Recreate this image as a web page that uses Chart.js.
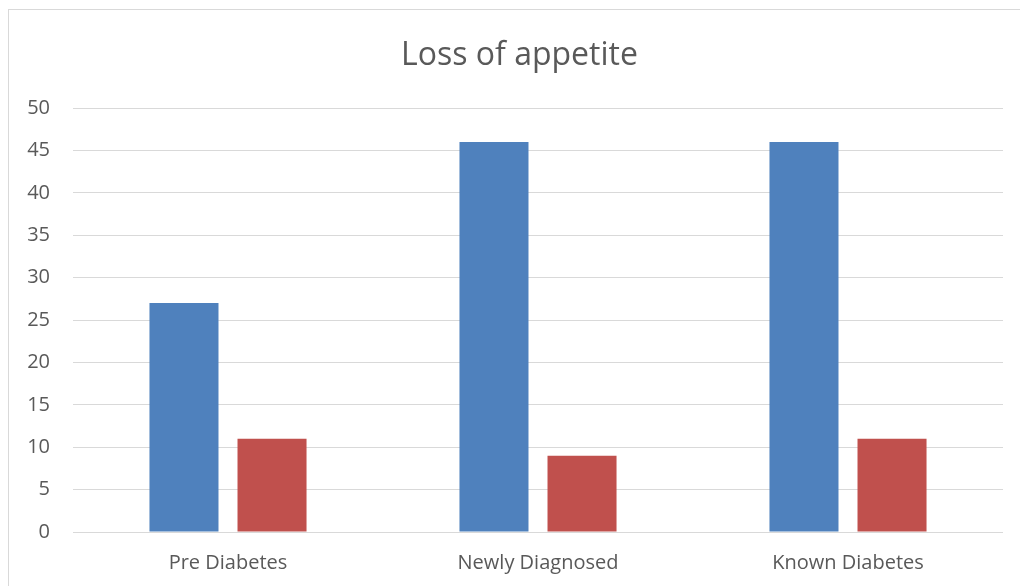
<!DOCTYPE html>
<html>
<head>
<meta charset="utf-8">
<script src="https://cdn.jsdelivr.net/npm/chart.js@4.4.0/dist/chart.umd.min.js"></script>
<style>
  html, body { margin: 0; padding: 0; background: #fff; }
  #wrap { position: relative; width: 1020px; height: 586px; overflow: hidden; }
  #frame { position: absolute; left: 8px; top: 9px; width: 1030px; height: 600px;
           border: 1px solid #d9d9d9; box-sizing: border-box; }
  canvas { position: absolute; left: 0; top: 0; }
</style>
</head>
<body>
<div id="wrap">
  <div id="frame"></div>
  <canvas id="c" width="1020" height="586"></canvas>
</div>
<script>
const chartTitle = 'Loss of appetite';
const categories = ['Pre Diabetes', 'Newly Diagnosed', 'Known Diabetes'];
const seriesA = [27, 46, 46];
const seriesB = [11, 9, 11];
const yTicks = [0, 5, 10, 15, 20, 25, 30, 35, 40, 45, 50];

const FONT = '"Open Sans", "Noto Sans", sans-serif';
const TEXT = '#595959';

const titlePlugin = {
  id: 'centerTitle',
  afterDraw(chart) {
    const ctx = chart.ctx;
    ctx.save();
    ctx.font = '32px ' + FONT;
    ctx.fillStyle = TEXT;
    ctx.textAlign = 'center';
    ctx.textBaseline = 'middle';
    ctx.fillText(chartTitle, 519.5, 56);
    ctx.restore();
  }
};

new Chart(document.getElementById('c'), {
  type: 'bar',
  data: {
    labels: categories,
    datasets: [
      { label: 'A', data: seriesA, backgroundColor: '#4f81bd' },
      { label: 'B', data: seriesB, backgroundColor: '#c0504d' }
    ]
  },
  options: {
    responsive: false,
    animation: false,
    devicePixelRatio: 1,
    categoryPercentage: 0.568,
    barPercentage: 0.784,
    layout: { padding: { left: 0, right: 17, top: 108, bottom: 0 } },
    plugins: {
      legend: { display: false },
      title: { display: false },
      tooltip: { enabled: false }
    },
    scales: {
      x: {
        grid: { display: false, drawTicks: false },
        border: { display: false },
        ticks: { color: TEXT, font: { family: FONT, size: 20 }, padding: 19 },
        afterFit(s) { s.height = 54; }
      },
      y: {
        min: 0, max: 50,
        afterBuildTicks(s) { s.ticks = yTicks.map(v => ({ value: v })); },
        grid: { color: '#d9d9d9', lineWidth: 1, drawTicks: false },
        border: { display: false },
        ticks: { color: TEXT, font: { family: FONT, size: 20 }, padding: 23 },
        afterFit(s) { s.width = 73; }
      }
    }
  },
  plugins: [titlePlugin]
});
</script>
</body>
</html>
